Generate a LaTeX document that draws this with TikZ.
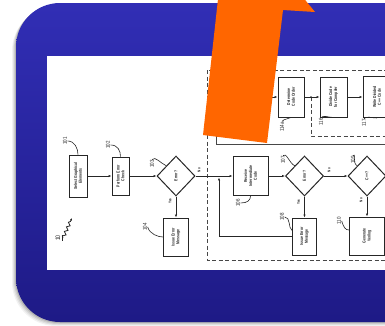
\documentclass[tikz,border=0pt]{standalone}
\usepackage{fontspec}
\setmainfont{Liberation Sans}[FakeStretch=0.8]
\usetikzlibrary{shapes.geometric, positioning, arrows.meta, decorations.pathmorphing}
\usepackage{xcolor}
\definecolor{SlideBlue}{HTML}{2A27A8}
\definecolor{SlideBlueDark}{HTML}{1E1A86}
\definecolor{SlideBlueLight}{HTML}{312EB5}
\definecolor{ArrowOrange}{HTML}{FF6600}
\definecolor{PatentInk}{HTML}{262626}

\begin{document}
\begin{tikzpicture}[x=1pt, y=-1pt,
    box/.style={draw=PatentInk, line width=1pt, rotate=90, align=center, inner sep=0.5pt,
        font=\fontsize{4.3}{4.9}\selectfont\bfseries, text=PatentInk},
    decision/.style={draw=PatentInk, line width=1pt, diamond, rotate=90, inner sep=0pt,
        minimum width=40pt, minimum height=38pt, font=\fontsize{4.3}{4.9}\selectfont\bfseries, text=PatentInk},
    num/.style={rotate=90, font=\fontsize{5.6}{6}\selectfont, text=PatentInk, inner sep=0.5pt},
    yesno/.style={rotate=90, font=\fontsize{3.8}{4}\selectfont\bfseries, text=PatentInk, inner sep=0pt},
    flow/.style={draw=PatentInk, line width=0.7pt, -{Latex[length=2.8pt,width=2.2pt]}},
    leader/.style={draw=PatentInk, line width=0.6pt},
    group/.style={draw=PatentInk!85, line width=0.7pt, dash pattern=on 4pt off 2.5pt}]
                \useasboundingbox (0,0) rectangle (385,325);
                \clip (0,0) rectangle (385,325);

                % Slide frame with soft shadow
                \foreach \s/\o in {4/0.05, 3/0.07, 2/0.09, 1/0.12}
                    \fill[black, opacity=\o, rounded corners=44pt] (16-\s,3+\s) rectangle (430,322+\s);
                \shade[top color=SlideBlueLight, middle color=SlideBlue, bottom color=SlideBlueDark,
                    rounded corners=44pt] (16,3) rectangle (430,322);
                \fill[white] (47,56) rectangle (400,270);

                % First part of the flow
                \node[box, minimum width=42pt, minimum height=18pt] (b101) at (78,176) {Select Graphical\\Elements};
                \node[box, minimum width=38pt, minimum height=17pt] (b102) at (120.5,176) {Perform Error\\Check};
                \node[decision] (d103) at (176,176) {Error?};
                \node[box, minimum width=38pt, minimum height=25pt] (b104) at (176,237) {Issue Error\\Message};

                % Compiler part
                \node[box, minimum width=39pt, minimum height=35pt] (b106) at (250.5,176) {Receive\\Intermediate\\Code};
                \node[decision] (d107) at (304.5,176) {Error?};
                \node[decision] (d109) at (367,176) {C++?};
                \node[box, minimum width=37pt, minimum height=24pt] (b108) at (304.5,236.5) {Issue Error\\Message};
                \node[box, minimum width=38pt, minimum height=35pt] (b110) at (367,236) {Generate\\Verilog};
                \node[box, minimum width=40pt, minimum height=26pt] (b114a) at (291,97) {Determine\\Code Order};
                \node[box, minimum width=40pt, minimum height=27pt] (b116) at (333.5,97) {Divide Code\\for Compiler};
                \node[box, minimum width=41pt, minimum height=28pt] (b117) at (377,97) {Write Divided\\C++ Code};

                % Groups
                \draw[group] (207,70) rectangle (400,260);
                \draw[PatentInk!85, line width=0.7pt] (216,90) -- (216,144) -- (400,144);
                \coordinate (j116) at (311,97);
                \draw[group] (j116) -- (311,136) -- (400,136);
                \fill[PatentInk] (j116) circle (1pt);

                % Connectors
                \coordinate (fb) at (219,177.5);
                \coordinate (in114) at (250,97);
                \draw[flow] (b101) -- (b102);
                \draw[flow] (b102) -- (d103);
                \draw[flow] (d103) -- (b104);
                \draw[flow] (d103) -- (b106);
                \draw[flow] (b106) -- (d107);
                \draw[flow] (d107) -- (d109);
                \draw[flow] (d107) -- (b108);
                \draw[flow] (d109) -- (b110);
                \draw[flow] (b108.north) -| (fb);
                \draw[flow] (in114) -- (b114a);
                \draw[leader, line width=0.7pt] (b114a) -- (j116);
                \draw[flow] (j116) -- (b116);
                \draw[flow] (b116) -- (b117);

                % Branch labels
                \node[yesno] (no103) at (199,170) {No};
                \node[yesno] (yes103) at (170,201) {Yes};
                \node[yesno] (no107) at (329,170) {No};
                \node[yesno] (yes107) at (298.5,202) {Yes};
                \node[yesno] (no109) at (361,200) {No};

                % Reference numbers
                \node[num] (n101) at (65,141) {101};
                \node[num] (n102) at (108,145) {102};
                \node[num] (n103) at (152,164) {103};
                \node[num] (n104) at (145,227) {104};
                \node[num] (n106) at (238,203) {106};
                \node[num] (n107) at (283,160) {107};
                \node[num] (n108) at (282,217) {108};
                \node[num] (n109) at (353,160) {109};
                \node[num] (n110) at (339,221) {110};
                \node[num] (n114a) at (282,127) {114a};
                \node[num] (n116) at (321,122) {116};
                \node[num] (n117) at (364,123) {117};
                \node[num, font=\fontsize{6.5}{7}\selectfont] (n10) at (59,238) {\underline{10}};
                \coordinate (p10) at (72,218);

                \draw[leader] (n101.south) .. controls +(7,0) and +(0,-6) .. (b101.east);
                \draw[leader] (n102.south) .. controls +(7,0) and +(0,-6) .. (b102.east);
                \draw[leader] (n103.east) .. controls +(3,-4) and +(-5,-2) .. (d103.north east);
                \draw[leader] (n104.south) .. controls +(2,7) and +(-5,0) .. (b104.north);
                \draw[leader] (n106.south) .. controls +(7,0) and +(0,4) .. (b106.west);
                \draw[leader] (n107.east) .. controls +(3,-4) and +(-5,-2) .. (d107.north east);
                \draw[leader] (n108.south) .. controls +(6,0) and +(-4,-3) .. ([yshift=6pt]b108.north);
                \draw[leader] (n109.east) .. controls +(3,-4) and +(-5,-2) .. (d109.north east);
                \draw[leader] (n110.south) .. controls +(2,6) and +(-4,0) .. ([yshift=6pt]b110.north);
                \draw[leader] (n114a.east) .. controls +(2,-3) and +(-3,2) .. (b114a.west);
                \draw[leader] (n116.east) .. controls +(2,-3) and +(-5,0) .. (b116.west);
                \draw[leader] (n117.east) .. controls +(2,-3) and +(-5,0) .. (b117.west);
                \draw[leader, line width=0.8pt, -{Latex[length=2.5pt,width=2.2pt]}, decorate,
                    decoration={snake, amplitude=1.5pt, segment length=5pt, post length=2.5pt}] (n10.south) -- (p10);

                % Highlight arrow
                \fill[ArrowOrange] (203,135) -- (267,143) -- (283,10) -- (315,12) -- (297,-10) -- (219,-10) -- cycle;
            \end{tikzpicture}
\end{document}
